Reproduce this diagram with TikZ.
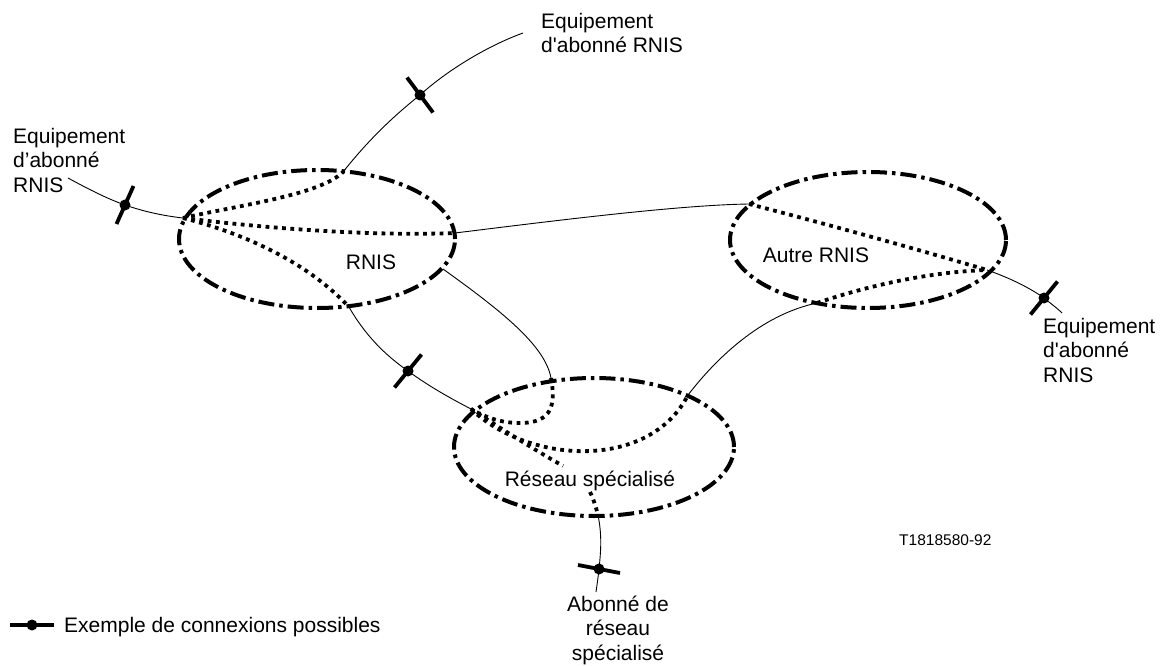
\documentclass[tikz,border=0pt]{standalone}
\usepackage{fontspec}
\setmainfont{Liberation Sans}
\newfontfamily\plainapos{Liberation Sans}
\newcommand{\sap}{{\plainapos '}}
\usetikzlibrary{shapes.geometric,calc}
\begin{document}
\begin{tikzpicture}[x=1pt,y=-1pt,
  net/.style={ellipse,draw,inner sep=0pt,line width=4pt,
    dash pattern=on 16pt off 5pt on 3.5pt off 5pt},
  thinline/.style={line width=0.9pt},
  dotline/.style={line width=3.8pt,dash pattern=on 3.8pt off 4.5pt},
  barline/.style={line width=3.8pt},
  lbl/.style={inner sep=0pt,font=\fontsize{21}{24.5}\selectfont},
  smalllbl/.style={inner sep=0pt,font=\fontsize{15.5}{18}\selectfont}]
\useasboundingbox (0,0) rectangle (1162,666);

% networks
\node[net,minimum width=276pt,minimum height=138pt] (rnis) at (317,239) {};
\node[net,minimum width=276pt,minimum height=136pt] (autre) at (868,240) {};
\node[net,minimum width=280pt,minimum height=138pt] (reseau) at (594,447) {};

\node[lbl,anchor=base] (trnis) at (371,269) {RNIS};
\node[lbl,anchor=base] (tautre) at (816,262) {Autre RNIS};
\node[lbl,anchor=base] (treseau) at (590,486) {Réseau spécialisé};

% outside labels (base anchor = last line)
\node[lbl,anchor=base west,align=left] (eqL) at (13,192) {Equipement\\d’abonné\\RNIS};
\node[lbl,anchor=base west,align=left] (eqT) at (541,53) {Equipement\\d\sap abonné RNIS};
\node[lbl,anchor=base west,align=left] (eqR) at (1043,382) {Equipement\\d\sap abonné\\RNIS};
\node[lbl,anchor=base,align=center] (abo) at (618,660) {Abonné de\\réseau\\spécialisé};
\node[smalllbl,anchor=base west] (ref) at (899,545) {T1818580-92};
\node[lbl,anchor=base west] (leg) at (64,632) {Exemple de connexions possibles};

% junction points
\coordinate (rnisL) at (183,218);
\coordinate (rnisT) at (343,172);
\coordinate (rnisR) at (455,233);
\coordinate (rnisBR) at (443,269);
\coordinate (rnisB) at (349,307);
\coordinate (autL) at (749,204);
\coordinate (autR) at (987,270);
\coordinate (autB) at (817,303);
\coordinate (resL) at (471,409);
\coordinate (resT) at (551,378);
\coordinate (resR) at (688,395);
\coordinate (resB) at (598,515);
\coordinate (tR1) at (563,466);
\coordinate (tR2) at (590,492);
% markers
\coordinate (mL) at (125,205);
\coordinate (mT) at (420,95);
\coordinate (mR) at (1044,298);
\coordinate (mRL) at (408,371);
\coordinate (mB) at (599,569);
% free ends
\coordinate (eL) at (68,178);
\coordinate (eT) at (523,33);
\coordinate (eR) at (1062,313);
\coordinate (eB) at (596,592);

% thin solid links
\draw[thinline] (eL) .. controls (90,190) and (108,199) .. (mL)
   .. controls (145,212) and (165,216) .. (rnisL);
\draw[thinline] (rnisT) .. controls (370,138) and (395,115) .. (mT)
   .. controls (450,68) and (490,45) .. (eT);
\draw[thinline] (rnisR) .. controls (560,220) and (680,205) .. (autL);
\draw[thinline] (rnisBR) .. controls (500,310) and (545,345) .. (resT);
\draw[thinline] (rnisB) .. controls (365,335) and (385,355) .. (mRL)
   .. controls (430,387) and (450,398) .. (resL);
\draw[thinline] (resR) .. controls (715,360) and (760,315) .. (autB);
\draw[thinline] (resB) .. controls (602,535) and (601,550) .. (mB)
   .. controls (598,578) and (597,585) .. (eB);
\draw[thinline] (autR) .. controls (1010,278) and (1030,288) .. (mR)
   .. controls (1050,303) and (1057,308) .. (eR);

% dotted paths
\draw[dotline] (rnisL) .. controls (240,205) and (320,195) .. (rnisT);
\draw[dotline] (rnisL) .. controls (280,230) and (380,236) .. (rnisR);
\draw[dotline] (rnisL) .. controls (250,235) and (310,265) .. (rnisB);
\draw[dotline] (autL) .. controls (830,225) and (920,250) .. (autR);
\draw[dotline] (autB) .. controls (870,285) and (930,272) .. (autR);
\draw[dotline] (resT) .. controls (556,405) and (552,423) .. (520,423)
   .. controls (500,423) and (485,417) .. (resL);
\draw[dotline] (resL) .. controls (530,465) and (650,470) .. (resR);
\draw[dotline] (resL) .. controls (500,428) and (530,447) .. (tR1);
\draw[dotline] (tR2) .. controls (594,500) and (596,508) .. (resB);

% connection markers
\foreach \m/\dx/\dy in {mL/8.5/-19, mT/13/17.5, mR/13.5/-16.5, mRL/13.5/-16.5, mB/21/4}{
  \draw[barline] ($(\m)+(\dx,\dy)$) -- ($(\m)-(\dx,\dy)$);
  \fill (\m) circle (5.5pt);
}
% legend marker
\coordinate (legm) at (32,625);
\coordinate (legA) at (10,625);
\coordinate (legB) at (54,625);
\draw[barline] (legA) -- (legB);
\fill (legm) circle (5.5pt);
\end{tikzpicture}
\end{document}
